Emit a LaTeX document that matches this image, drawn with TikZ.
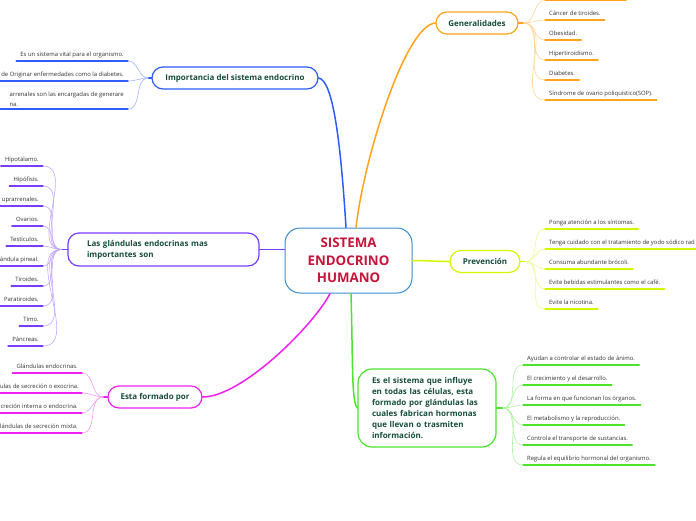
\documentclass[tikz,border=0pt]{standalone}
\usepackage{fontspec}
\setmainfont{Open Sans}
\usetikzlibrary{positioning, calc}

\definecolor{blauAst}{HTML}{2E5CFF}
\definecolor{orangeAst}{HTML}{FFA31A}
\definecolor{gelbAst}{HTML}{D4F700}
\definecolor{gruenAst}{HTML}{4BE32B}
\definecolor{violettAst}{HTML}{7A3CFF}
\definecolor{magentaAst}{HTML}{F21FF2}
\definecolor{kernRand}{HTML}{3D8BCF}
\definecolor{kernText}{HTML}{C8133A}
\definecolor{astText}{HTML}{164D3B}

\begin{document}
\begin{tikzpicture}[x=1pt, y=-1pt, line cap=round,
    kern/.style={draw=kernRand, line width=1pt, fill=white, rounded corners=15pt,
        minimum width=127pt, minimum height=65pt, align=center, text=kernText,
        font=\bfseries\fontsize{13.3}{17.5}\selectfont},
    ast/.style={draw=#1, line width=1.2pt, fill=white, rounded corners=11pt,
        minimum height=22pt, text=astText, font=\bfseries\fontsize{8}{11}\selectfont},
    linie/.style={draw=#1, line width=1.5pt},
    zweig/.style={draw=#1!45, line width=0.6pt},
    strich/.style={draw=#1, line width=1.4pt},
    blattbasis/.style={font=\fontsize{5.9}{10}\selectfont, text=black!80,
        inner xsep=4pt, inner ysep=2.5pt},
    blatt/.style={blattbasis, text height=5pt, text depth=1.5pt},
    blattR/.style={blatt, anchor=south west},
    blattL/.style={blatt, anchor=south east}]

    % Bildrahmen wie im Original
    \useasboundingbox (0,0) rectangle (696,520);

    % --- Zentrum ---
    \node[kern] (kern) at (348.5,260.5) {SISTEMA\\ENDOCRINO\\HUMANO};

    % --- Hauptäste ---
    \node[ast=blauAst, minimum width=166pt] (imp) at (235,78) {Importancia del sistema endocrino};
    \node[ast=orangeAst, minimum width=82pt] (gen) at (477,23) {Generalidades};
    \node[ast=gelbAst, minimum width=70pt] (prev) at (485,261.5) {Prevención};
    \node[ast=violettAst, minimum height=33pt, text width=153pt, inner xsep=19pt, align=left]
        (glan) at (163.5,249.5) {Las glándulas endocrinas mas\\importantes son};
    \node[ast=magentaAst, minimum width=94pt] (esta) at (155,397) {Esta formado por};
    \node[ast=gruenAst, rounded corners=14pt, minimum height=78pt, text width=110pt,
        inner xsep=14pt, align=left] (sist) at (427,408)
        {Es el sistema que influye\\en todas las células, esta\\formado por glándulas las\\cuales fabrican hormonas\\que llevan o trasmiten\\información.};

    % Verbindungen Zentrum -> Äste
    \draw[linie=blauAst] ($(kern.north)+(-2.5,0)$) .. controls +(-5,-80) and +(15,2) .. (imp.east);
    \draw[linie=orangeAst] ($(kern.north)+(7.5,0)$) .. controls +(8,-70) and +(-30,2) .. (gen.west);
    \draw[linie=gelbAst] (kern.east) .. controls +(15,0) and +(-15,0) .. (prev.west);
    \draw[linie=violettAst] ($(kern.west)+(0,-11)$) .. controls +(-10,0) and +(10,0) .. (glan.east);
    \draw[linie=magentaAst] ($(kern.south)+(-18.5,0)$) .. controls +(-15,30) and +(40,0) .. (esta.east);
    \draw[linie=gruenAst] ($(kern.south)+(2.5,0)$) .. controls +(2,70) and +(-6,-6) .. (sist.west);

    % Verteilerpunkte
    \coordinate[left=3pt of imp] (impHub);
    \coordinate[right=5pt of gen] (genHub);
    \coordinate[right=5pt of prev] (prevHub);
    \coordinate[left=6pt of glan] (glanHub);
    \coordinate[left=4pt of esta] (estaHub);
    \coordinate[right=6pt of sist] (sistHub);
    \draw[linie=blauAst] (imp.west) -- (impHub);
    \draw[linie=orangeAst] (gen.east) -- (genHub);
    \draw[linie=gelbAst] (prev.east) -- (prevHub);
    \draw[linie=violettAst] (glan.west) -- (glanHub);
    \draw[linie=magentaAst] (esta.west) -- (estaHub);
    \draw[linie=gruenAst] (sist.east) -- (sistHub);

    % --- Importancia ---
    \node[blattL] (b1) at (128,61) {Es un sistema vital para el organismo.};
    \node[blattL] (b2) at (128,81) {de Originar enfermedades como la diabetes.};
    \node[blattbasis, anchor=south east, align=left] (b3) at (128,109)
        {arrenales son las encargadas de generare\\na.};
    \draw[strich=blauAst] (b1.south west) -- (b1.south east);
    \draw[strich=blauAst] (0,81) -- (b2.south east);
    \draw[strich=blauAst] (0,109) -- (b3.south east);
    \draw[zweig=blauAst] (impHub) to[out=180,in=0] (b1.south east);
    \draw[zweig=blauAst] (impHub) to[out=180,in=0] (b2.south east);
    \draw[zweig=blauAst] (impHub) to[out=180,in=0] (b3.south east);

    % --- Generalidades ---
    \coordinate (o0) at (545,0.5);
    \coordinate (o0e) at (626,0.5);
    \node[blattR] (o1) at (545,20) {Cáncer de tiroides.};
    \node[blattR] (o2) at (545,40) {Obesidad.};
    \node[blattR] (o3) at (545,60) {Hipertiroidismo.};
    \node[blattR] (o4) at (545,80) {Diabetes.};
    \node[blattR] (o5) at (545,100) {Síndrome de ovario poliquístico(SOP).};
    \draw[strich=orangeAst] (o0) -- (o0e);
    \draw[strich=orangeAst] (o1.south west) -- (o1.south east);
    \draw[strich=orangeAst] (o2.south west) -- (o2.south east);
    \draw[strich=orangeAst] (o3.south west) -- (o3.south east);
    \draw[strich=orangeAst] (o4.south west) -- (o4.south east);
    \draw[strich=orangeAst] (o5.south west) -- (o5.south east);
    \draw[zweig=orangeAst] (genHub) to[out=0,in=180] (o0);
    \draw[zweig=orangeAst] (genHub) to[out=0,in=180] (o1.south west);
    \draw[zweig=orangeAst] (genHub) to[out=0,in=180] (o2.south west);
    \draw[zweig=orangeAst] (genHub) to[out=0,in=180] (o3.south west);
    \draw[zweig=orangeAst] (genHub) to[out=0,in=180] (o4.south west);
    \draw[zweig=orangeAst] (genHub) to[out=0,in=180] (o5.south west);

    % --- Prevención ---
    \node[blattR] (p1) at (545,229) {Ponga atención a los síntomas.};
    \node[blattR] (p2) at (545,249) {Tenga cuidado con el tratamiento de yodo sódico rad};
    \node[blattR] (p3) at (545,269) {Consuma abundante brócoli.};
    \node[blattR] (p4) at (545,289) {Evite bebidas estimulantes como el café.};
    \node[blattR] (p5) at (545,309) {Evite la nicotina.};
    \draw[strich=gelbAst] (p1.south west) -- (p1.south east);
    \draw[strich=gelbAst] (p2.south west) -- (700,249);
    \draw[strich=gelbAst] (p3.south west) -- (p3.south east);
    \draw[strich=gelbAst] (p4.south west) -- (p4.south east);
    \draw[strich=gelbAst] (p5.south west) -- (p5.south east);
    \draw[zweig=gelbAst] (prevHub) to[out=0,in=180] (p1.south west);
    \draw[zweig=gelbAst] (prevHub) to[out=0,in=180] (p2.south west);
    \draw[zweig=gelbAst] (prevHub) to[out=0,in=180] (p3.south west);
    \draw[zweig=gelbAst] (prevHub) to[out=0,in=180] (p4.south west);
    \draw[zweig=gelbAst] (prevHub) to[out=0,in=180] (p5.south west);

    % --- Las glándulas endocrinas ---
    \node[blattL] (v1) at (43,166) {Hipotálamo.};
    \node[blattL] (v2) at (43,186) {Hipófisis.};
    \node[blattL] (v3) at (43,206) {uprarrenales.};
    \node[blattL] (v4) at (43,226) {Ovarios.};
    \node[blattL] (v5) at (43,246) {Testículos.};
    \node[blattL] (v6) at (43,266) {ándula pineal.};
    \node[blattL] (v7) at (43,286) {Tiroides.};
    \node[blattL] (v8) at (43,306) {Paratiroides.};
    \node[blattL] (v9) at (43,326) {Timo.};
    \node[blattL] (v10) at (43,346) {Páncreas.};
    \draw[strich=violettAst] (v1.south west) -- (v1.south east);
    \draw[strich=violettAst] (v2.south west) -- (v2.south east);
    \draw[strich=violettAst] (0,206) -- (v3.south east);
    \draw[strich=violettAst] (v4.south west) -- (v4.south east);
    \draw[strich=violettAst] (v5.south west) -- (v5.south east);
    \draw[strich=violettAst] (0,266) -- (v6.south east);
    \draw[strich=violettAst] (v7.south west) -- (v7.south east);
    \draw[strich=violettAst] (v8.south west) -- (v8.south east);
    \draw[strich=violettAst] (v9.south west) -- (v9.south east);
    \draw[strich=violettAst] (v10.south west) -- (v10.south east);
    \draw[zweig=violettAst] (glanHub) to[out=180,in=0] (v1.south east);
    \draw[zweig=violettAst] (glanHub) to[out=180,in=0] (v2.south east);
    \draw[zweig=violettAst] (glanHub) to[out=180,in=0] (v3.south east);
    \draw[zweig=violettAst] (glanHub) to[out=180,in=0] (v4.south east);
    \draw[zweig=violettAst] (glanHub) to[out=180,in=0] (v5.south east);
    \draw[zweig=violettAst] (glanHub) to[out=180,in=0] (v6.south east);
    \draw[zweig=violettAst] (glanHub) to[out=180,in=0] (v7.south east);
    \draw[zweig=violettAst] (glanHub) to[out=180,in=0] (v8.south east);
    \draw[zweig=violettAst] (glanHub) to[out=180,in=0] (v9.south east);
    \draw[zweig=violettAst] (glanHub) to[out=180,in=0] (v10.south east);

    % --- Esta formado por ---
    \node[blattL] (m1) at (82,373) {Glándulas endocrinas.};
    \node[blattL, inner xsep=3pt] (m2) at (82,393) {ulas de secreción o exocrina.};
    \node[blattL] (m3) at (82,413) {creción interna o endocrina.};
    \node[blattL] (m4) at (82,433) {lándulas de secreción mixta.};
    \draw[strich=magentaAst] (m1.south west) -- (m1.south east);
    \draw[strich=magentaAst] (0,393) -- (m2.south east);
    \draw[strich=magentaAst] (0,413) -- (m3.south east);
    \draw[strich=magentaAst] (0,433) -- (m4.south east);
    \draw[zweig=magentaAst] (estaHub) to[out=180,in=0] (m1.south east);
    \draw[zweig=magentaAst] (estaHub) to[out=180,in=0] (m2.south east);
    \draw[zweig=magentaAst] (estaHub) to[out=180,in=0] (m3.south east);
    \draw[zweig=magentaAst] (estaHub) to[out=180,in=0] (m4.south east);

    % --- Es el sistema ... ---
    \node[blattR] (g1) at (523,365) {Ayudan a controlar el estado de ánimo.};
    \node[blattR] (g2) at (523,385) {El crecimiento y el desarrollo.};
    \node[blattR] (g3) at (523,405) {La forma en que funcionan los órganos.};
    \node[blattR] (g4) at (523,425) {El metabolismo y la reproducción.};
    \node[blattR] (g5) at (523,445) {Controla el transporte de sustancias.};
    \node[blattR] (g6) at (523,465) {Regula el equilibrio hormonal del organismo.};
    \draw[strich=gruenAst] (g1.south west) -- (g1.south east);
    \draw[strich=gruenAst] (g2.south west) -- (g2.south east);
    \draw[strich=gruenAst] (g3.south west) -- (g3.south east);
    \draw[strich=gruenAst] (g4.south west) -- (g4.south east);
    \draw[strich=gruenAst] (g5.south west) -- (g5.south east);
    \draw[strich=gruenAst] (g6.south west) -- (g6.south east);
    \draw[zweig=gruenAst] (sistHub) to[out=0,in=180] (g1.south west);
    \draw[zweig=gruenAst] (sistHub) to[out=0,in=180] (g2.south west);
    \draw[zweig=gruenAst] (sistHub) to[out=0,in=180] (g3.south west);
    \draw[zweig=gruenAst] (sistHub) to[out=0,in=180] (g4.south west);
    \draw[zweig=gruenAst] (sistHub) to[out=0,in=180] (g5.south west);
    \draw[zweig=gruenAst] (sistHub) to[out=0,in=180] (g6.south west);

\end{tikzpicture}
\end{document}
